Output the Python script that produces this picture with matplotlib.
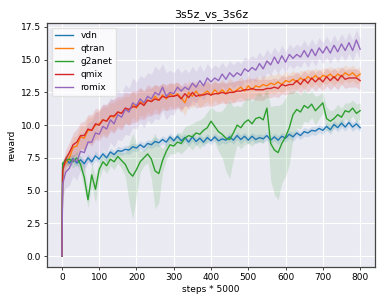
import numpy as np
import matplotlib
matplotlib.use("Agg")
import matplotlib.pyplot as plt

plt.rcParams["font.family"] = ["DejaVu Sans"]
plt.rcParams["font.size"] = 6.5

# %% data (steps * 5000)
steps = [0, 2] + list(range(10, 801, 10))

vdn = [0, 6.8,
       7.4, 7.1, 7.45, 7.1, 7.35, 7.05, 7.5, 7.2, 7.65, 7.4,
       7.8, 7.5, 7.95, 7.75, 8.05, 8.0, 8.15, 8.1, 8.35, 8.25,
       8.5, 8.3, 8.6, 8.5, 8.75, 8.65, 8.9, 8.7, 9.1, 8.8,
       9.15, 8.8, 9.05, 8.7, 9.1, 8.75, 9.0, 8.7, 9.05, 8.8,
       9.1, 8.8, 8.95, 8.85, 9.1, 8.85, 9.2, 8.9, 9.15, 8.85,
       9.15, 8.9, 9.05, 8.95, 9.2, 8.85, 9.1, 8.85, 9.15, 9.0,
       9.3, 9.1, 9.4, 9.2, 9.5, 9.4, 9.6, 9.55, 9.75, 9.6,
       9.9, 9.65, 10.05, 9.8, 10.15, 9.85, 10.2, 9.85, 10.1, 9.8]
vdn_std = [0, 0.3,
           0.3, 0.3, 0.35, 0.3, 0.3, 0.35, 0.3, 0.3, 0.35, 0.3,
           0.3, 0.35, 0.3, 0.3, 0.35, 0.3, 0.3, 0.35, 0.3, 0.3,
           0.3, 0.35, 0.3, 0.3, 0.35, 0.3, 0.3, 0.35, 0.3, 0.3,
           0.3, 0.35, 0.3, 0.3, 0.35, 0.3, 0.3, 0.35, 0.3, 0.3,
           0.3, 0.35, 0.3, 0.3, 0.35, 0.3, 0.3, 0.35, 0.3, 0.3,
           0.3, 0.35, 0.3, 0.3, 0.35, 0.3, 0.3, 0.35, 0.3, 0.3,
           0.3, 0.35, 0.3, 0.3, 0.35, 0.3, 0.3, 0.35, 0.3, 0.3,
           0.3, 0.35, 0.3, 0.3, 0.35, 0.3, 0.3, 0.35, 0.3, 0.3]

qtran = [0, 6.8,
         7.1, 7.5, 8.3, 8.4, 9.1, 9.0, 9.6, 9.6, 10.0, 10.1,
         10.4, 10.3, 10.7, 10.6, 11.0, 10.9, 11.2, 11.1, 11.6, 11.3,
         11.8, 11.6, 11.9, 11.8, 12.2, 11.9, 12.3, 12.0, 12.4, 12.2,
         12.4, 12.1, 11.7, 12.5, 12.2, 12.6, 12.2, 12.4, 12.6, 12.3,
         12.7, 12.4, 12.7, 12.4, 12.8, 12.5, 12.7, 12.9, 12.6, 13.0,
         12.7, 13.0, 12.9, 13.1, 13.0, 13.2, 13.1, 13.3, 13.1, 13.4,
         13.3, 13.5, 13.3, 13.6, 13.4, 13.7, 13.5, 13.8, 13.5, 13.8,
         13.7, 13.9, 13.6, 13.9, 13.7, 14.0, 13.8, 14.0, 13.7, 13.9]
qtran_std = [0, 0.5,
             0.6, 0.7, 0.8, 0.8, 0.9, 0.9, 1.0, 1.0, 1.0, 1.0,
             1.0, 1.1, 1.0, 1.1, 1.0, 1.1, 1.0, 1.1, 1.0, 1.0,
             1.0, 1.0, 0.9, 1.0, 0.9, 1.0, 0.9, 0.9, 0.9, 0.9,
             0.9, 0.9, 1.0, 0.9, 0.9, 0.8, 0.9, 0.8, 0.8, 0.8,
             0.8, 0.8, 0.8, 0.8, 0.8, 0.8, 0.7, 0.8, 0.7, 0.8,
             0.7, 0.7, 0.7, 0.7, 0.7, 0.7, 0.7, 0.7, 0.7, 0.7,
             0.6, 0.7, 0.6, 0.6, 0.7, 0.6, 0.6, 0.6, 0.6, 0.6,
             0.6, 0.6, 0.6, 0.6, 0.6, 0.6, 0.6, 0.6, 0.6, 0.6]

g2anet = [0, 7.1,
          7.3, 7.4, 7.2, 7.5, 7.0, 6.0, 4.3, 6.2, 5.1, 6.6,
          7.2, 6.9, 7.4, 7.2, 7.6, 7.3, 7.0, 6.4, 6.1, 6.6,
          7.2, 7.5, 7.8, 7.4, 6.5, 6.3, 7.3, 8.0, 8.5, 8.4,
          8.7, 8.6, 9.0, 9.2, 9.1, 9.4, 9.3, 9.6, 9.8, 10.3,
          9.9, 9.5, 9.3, 9.0, 8.9, 9.4, 10.0, 9.8, 10.2, 10.4,
          10.1, 10.5, 10.6, 10.4, 11.3, 8.6, 8.1, 7.9, 8.6, 9.1,
          9.8, 10.8, 11.2, 11.0, 11.5, 11.3, 11.6, 11.1, 11.4, 11.7,
          10.5, 10.3, 10.5, 10.8, 10.6, 11.1, 11.0, 11.3, 10.9, 11.1]
g2anet_std = [0, 0.3,
              0.4, 0.4, 0.5, 0.5, 0.6, 0.9, 0.6, 0.9, 1.0, 0.7,
              0.5, 0.6, 0.5, 0.6, 0.5, 0.6, 0.9, 2.2, 3.3, 2.0,
              0.8, 0.6, 0.7, 1.5, 2.9, 2.2, 0.9, 0.6, 0.7, 0.6,
              0.7, 0.8, 0.9, 0.8, 1.0, 0.9, 1.1, 1.0, 1.2, 1.1,
              1.2, 1.5, 1.8, 2.5, 3.0, 2.0, 1.5, 1.6, 1.7, 1.8,
              1.7, 1.8, 1.9, 1.8, 1.5, 2.8, 3.4, 3.6, 3.0, 3.0,
              2.8, 1.8, 1.4, 1.3, 1.2, 1.1, 1.0, 1.1, 0.9, 0.8,
              0.9, 0.8, 0.7, 0.8, 0.7, 0.6, 0.7, 0.6, 0.7, 0.6]

qmix = [0, 6.5,
        7.4, 7.9, 8.5, 8.7, 9.2, 9.2, 9.7, 9.6, 10.1, 10.0,
        10.4, 10.3, 10.7, 10.7, 11.0, 10.9, 11.3, 11.2, 11.4, 11.4,
        11.7, 11.5, 11.9, 11.8, 12.0, 11.9, 12.2, 12.1, 12.2, 12.2,
        12.3, 12.0, 12.4, 12.1, 12.5, 12.2, 12.3, 12.3, 12.4, 12.3,
        12.4, 12.4, 12.5, 12.4, 12.5, 12.5, 12.6, 12.6, 12.7, 12.7,
        12.8, 12.7, 12.7, 12.7, 12.8, 12.8, 12.9, 12.8, 13.1, 13.0,
        13.1, 13.1, 13.4, 13.1, 13.5, 13.2, 13.6, 13.3, 13.6, 13.3,
        13.7, 13.4, 13.7, 13.4, 13.8, 13.5, 13.6, 13.6, 13.6, 13.4]
qmix_std = [0, 0.6,
            0.7, 0.8, 0.9, 1.0, 1.0, 1.1, 1.1, 1.2, 1.2, 1.2,
            1.2, 1.3, 1.2, 1.3, 1.2, 1.3, 1.2, 1.2, 1.2, 1.2,
            1.2, 1.1, 1.2, 1.1, 1.1, 1.1, 1.0, 1.0, 1.0, 1.0,
            1.0, 1.0, 0.9, 0.9, 0.9, 0.9, 0.9, 0.9, 0.9, 0.9,
            0.9, 0.8, 0.8, 0.8, 0.8, 0.8, 0.8, 0.8, 0.8, 0.8,
            0.8, 0.8, 0.8, 0.8, 0.7, 0.7, 0.7, 0.7, 0.7, 0.7,
            0.7, 0.7, 0.7, 0.7, 0.7, 0.7, 0.7, 0.7, 0.7, 0.7,
            0.7, 0.7, 0.7, 0.7, 0.7, 0.7, 0.7, 0.7, 0.7, 0.7]

romix = [0, 5.5,
         6.4, 6.7, 7.4, 7.2, 8.0, 7.9, 8.7, 8.7, 9.4, 9.3,
         9.9, 9.7, 10.4, 10.1, 10.8, 10.6, 11.2, 11.0, 11.7, 11.5,
         12.0, 11.7, 12.2, 12.0, 12.5, 12.3, 12.9, 12.2, 12.5, 12.4,
         12.9, 12.6, 12.9, 12.7, 13.2, 12.9, 13.4, 13.0, 13.6, 13.3,
         13.6, 13.4, 13.9, 13.5, 14.0, 13.7, 14.0, 13.8, 14.3, 14.1,
         14.4, 14.2, 14.7, 14.3, 14.9, 14.6, 15.2, 14.7, 15.3, 14.8,
         15.4, 15.1, 15.4, 15.2, 15.7, 15.2, 15.8, 15.3, 15.9, 15.5,
         16.0, 15.5, 16.1, 15.6, 16.2, 15.7, 16.3, 15.7, 16.5, 15.8]
romix_std = [0, 1.0,
             1.2, 1.3, 1.3, 1.4, 1.4, 1.5, 1.5, 1.6, 1.6, 1.7,
             1.7, 1.8, 1.7, 1.8, 1.9, 1.8, 1.9, 1.8, 1.9, 1.8,
             1.8, 1.9, 1.8, 1.9, 2.0, 1.9, 1.8, 1.8, 1.7, 1.6,
             1.5, 1.4, 1.4, 1.3, 1.3, 1.2, 1.2, 1.1, 1.1, 1.0,
             1.0, 1.0, 0.9, 0.9, 0.9, 0.9, 0.9, 0.9, 0.9, 0.9,
             0.9, 0.9, 0.9, 0.9, 0.9, 0.8, 0.8, 0.8, 0.8, 0.8,
             0.8, 0.8, 0.8, 0.8, 0.8, 0.8, 0.8, 0.8, 0.8, 0.8,
             0.8, 0.8, 0.8, 0.8, 0.8, 0.8, 0.8, 0.8, 0.8, 0.8]

names = ["vdn", "qtran", "g2anet", "qmix", "romix"]
means = [vdn, qtran, g2anet, qmix, romix]
stds = [vdn_std, qtran_std, g2anet_std, qmix_std, romix_std]
colors = ["C0", "C1", "C2", "C3", "C4"]

# %% plotting
fig = plt.figure(figsize=(3.84, 3.0), dpi=100)
axes = fig.add_axes([0.1224, 0.11, 0.8542, 0.8133])
axes.set_facecolor("#EAEAF2")
axes.grid(True, color="white", linewidth=0.8)
axes.set_axisbelow(True)

x = np.array(steps)
for name, m, s, c in zip(names, means, stds, colors):
    m = np.array(m)
    s = np.array(s)
    axes.plot(x, m, color=c, linewidth=1.0, label=name)
    axes.fill_between(x, m - s, m + s, color=c, alpha=0.14, linewidth=0)

axes.set_xlim(-40, 840)
axes.set_ylim(-0.84, 17.8)
axes.set_xticks(np.arange(0, 801, 100))
axes.set_yticks(np.arange(0, 17.6, 2.5))
for sp in axes.spines.values():
    sp.set_color("#444444")
    sp.set_linewidth(0.9)
axes.tick_params(length=2.5, width=0.7, color="#444444", labelsize=6.5, pad=2)

axes.set_title("3s5z_vs_3s6z", fontsize=7.9, pad=4)
axes.set_xlabel("steps * 5000", fontsize=6.5, labelpad=2)
axes.set_ylabel("reward", fontsize=6.5, labelpad=3)
axes.legend(loc="upper left", fontsize=6.5, framealpha=0.8, facecolor="white",
            edgecolor="#dddddd", borderpad=0.4, labelspacing=0.45, handlelength=2.0)

fig.savefig("out.png", dpi=100)
